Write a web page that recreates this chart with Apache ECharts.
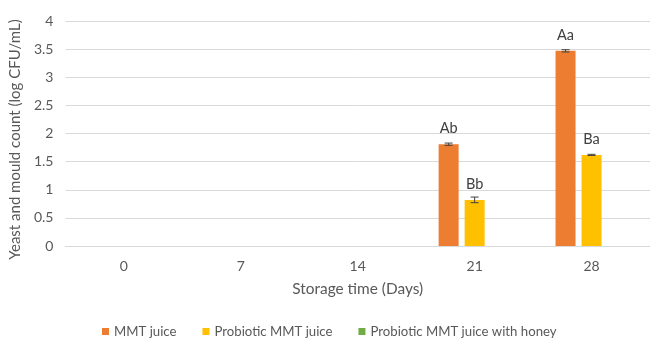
<!DOCTYPE html>
<html lang="en">
<head>
    <meta charset="UTF-8">
    <title>Yeast and mould count</title>
    <script src="https://cdn.jsdelivr.net/npm/echarts@6/dist/echarts.min.js"></script>
</head>
<body style="margin:0;background:#fff">
<div id="container" style="width:650px;height:338px"></div>
<script type="text/javascript">
    // data
    const days = ['0', '7', '14', '21', '28'];
    const seriesNames = ['MMT juice', 'Probiotic MMT juice', 'Probiotic MMT juice with honey'];
    const mmtJuice = [0, 0, 0, 1.81, 3.47];
    const probioticJuice = [0, 0, 0, 0.82, 1.62];
    const honeyJuice = [0, 0, 0, 0, 0];
    const mmtErr = [0, 0, 0, 0.02, 0.02];
    const probioticErr = [0, 0, 0, 0.05, 0.01];
    const mmtLetters = ['', '', '', 'Ab', 'Aa'];
    const probioticLetters = ['', '', '', 'Bb', 'Ba'];
    const colors = ['#ED7D31', '#FFC000', '#70AD47'];

    const font = 'Lato, sans-serif';
    const BAR_W = 20, GAP = 6;

    // error bar drawn as custom series, offset to the bar's slot in the group
    function errorSeries(values, errs, slot) {
        let data = [];
        for (let i = 0; i < values.length; i++) {
            if (values[i] > 0) data.push([i, values[i] - errs[i], values[i] + errs[i]]);
        }
        return {
            type: 'custom',
            z: 5,
            renderItem: function (params, api) {
                let lo = api.coord([api.value(0), api.value(1)]);
                let hi = api.coord([api.value(0), api.value(2)]);
                let x = lo[0] + slot * (BAR_W + GAP);
                let hw = 4;
                let st = {stroke: '#404040', lineWidth: 1};
                return {
                    type: 'group',
                    children: [
                        {type: 'line', shape: {x1: x, y1: hi[1], x2: x, y2: lo[1]}, style: st},
                        {type: 'line', shape: {x1: x - hw, y1: hi[1], x2: x + hw, y2: hi[1]}, style: st},
                        {type: 'line', shape: {x1: x - hw, y1: lo[1], x2: x + hw, y2: lo[1]}, style: st}
                    ]
                };
            },
            data: data,
            silent: true
        };
    }

    function letterLabel(letters) {
        return {
            show: true,
            position: 'top',
            distance: 8,
            fontFamily: font,
            fontSize: 14.5,
            color: '#404040',
            formatter: function (p) { return letters[p.dataIndex]; }
        };
    }

    let myChart = echarts.init(document.getElementById('container'));
    let option = {
        animation: false,
        textStyle: {fontFamily: font},
        grid: {left: 64, right: -3, top: 21, bottom: 92},
        legend: {
            data: seriesNames,
            left: 97,
            top: 320,
            itemWidth: 7,
            itemHeight: 7,
            itemGap: 26,
            icon: 'rect',
            textStyle: {fontFamily: font, fontSize: 13.2, color: '#595959'}
        },
        xAxis: {
            type: 'category',
            data: days,
            name: 'Storage time (Days)',
            nameLocation: 'middle',
            nameGap: 36,
            nameTextStyle: {fontFamily: font, fontSize: 15.4, color: '#595959'},
            axisLine: {lineStyle: {color: '#d9d9d9', width: 1}},
            axisTick: {show: false},
            axisLabel: {fontFamily: font, fontSize: 14, color: '#595959', margin: 13}
        },
        yAxis: {
            type: 'value',
            min: 0,
            max: 4,
            interval: 0.5,
            name: 'Yeast and mould count (log CFU/mL)',
            nameLocation: 'middle',
            nameGap: 36,
            nameTextStyle: {fontFamily: font, fontSize: 15, color: '#595959', padding: [0, 12, 0, 0]},
            axisLine: {show: false},
            axisTick: {show: false},
            axisLabel: {fontFamily: font, fontSize: 14, color: '#595959', margin: 12},
            splitLine: {lineStyle: {color: '#d9d9d9', width: 1}}
        },
        series: [
            {
                name: seriesNames[0], type: 'bar', data: mmtJuice,
                barWidth: BAR_W, barGap: '30%', itemStyle: {color: colors[0]},
                label: letterLabel(mmtLetters)
            },
            {
                name: seriesNames[1], type: 'bar', data: probioticJuice,
                barWidth: BAR_W, barGap: '30%', itemStyle: {color: colors[1]},
                label: letterLabel(probioticLetters)
            },
            {
                name: seriesNames[2], type: 'bar', data: honeyJuice,
                barWidth: BAR_W, barGap: '30%', itemStyle: {color: colors[2]}
            },
            errorSeries(mmtJuice, mmtErr, -1),
            errorSeries(probioticJuice, probioticErr, 0)
        ]
    };
    myChart.setOption(option);
</script>
</body>
</html>
